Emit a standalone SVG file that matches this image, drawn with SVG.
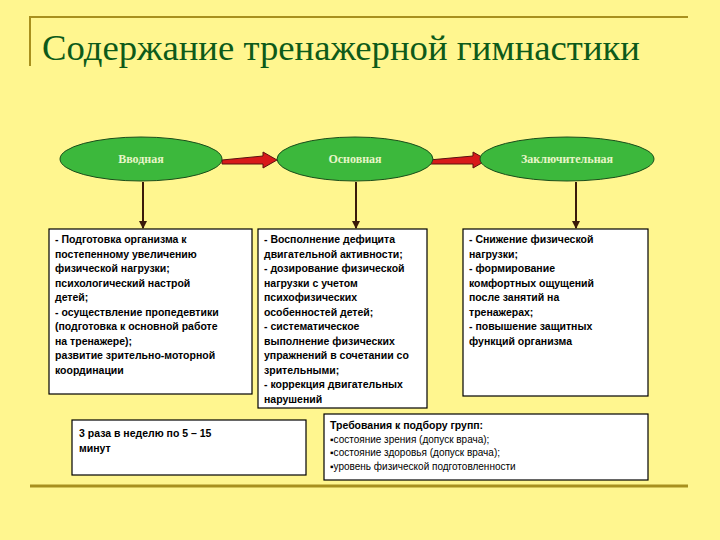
<svg xmlns="http://www.w3.org/2000/svg" width="720" height="540" viewBox="0 0 720 540">
<style>
.ell{fill:#3cb83c;stroke:#1a4d1a;stroke-width:1}
.el{font-family:"Liberation Serif",serif;font-size:12px;font-weight:bold;fill:#e8f5c8;text-anchor:middle}
.box{fill:#fff;stroke:#000;stroke-width:1.2}
.t{font-family:"Liberation Sans",Arial,sans-serif;font-size:10.5px;font-weight:bold;fill:#000}
.tn{font-family:"Liberation Sans",Arial,sans-serif;font-size:10px;fill:#000}
.dn{stroke:#3a1a0a;stroke-width:2;fill:none}
</style>
<defs>
<marker id="ad" markerWidth="8" markerHeight="8" refX="7" refY="4" orient="auto" markerUnits="userSpaceOnUse"><path d="M0,0 L8,4 L0,8 Z" fill="#3a1a0a"/></marker>
</defs>
<rect width="720" height="540" fill="#fff68f"/>
<path d="M29,17 H688" stroke="#a8901e" stroke-width="2"/>
<path d="M30,17 V66" stroke="#a8901e" stroke-width="2"/>
<path d="M30,486 H688" stroke="#a8901e" stroke-width="3"/>
<text x="42" y="60" font-family="Liberation Serif,serif" font-size="35" fill="#0d5a1a" textLength="598" lengthAdjust="spacingAndGlyphs">Содержание тренажерной гимнастики</text>
<g id="connectors">
<path d="M222,160 L263,156 L263,152 L277,160 L263,168 L263,164 L222,164 Z" fill="#d81a1a" stroke="#5a1010" stroke-width="1"/>
<path d="M429,160 L473,156 L473,152 L487,160 L473,168 L473,164 L429,164 Z" fill="#d81a1a" stroke="#5a1010" stroke-width="1"/>
<path class="dn" d="M143,182 V228" marker-end="url(#ad)"/>
<path class="dn" d="M356,182 V228" marker-end="url(#ad)"/>
<path class="dn" d="M576,182 V228" marker-end="url(#ad)"/>
</g>
<g id="n1"><ellipse class="ell" cx="141" cy="159" rx="81" ry="22"/><text class="el" x="141" y="163">Вводная</text></g>
<g id="n2"><ellipse class="ell" cx="355" cy="159" rx="78" ry="22"/><text class="el" x="355" y="163">Основная</text></g>
<g id="n3"><ellipse class="ell" cx="567" cy="159" rx="87" ry="22"/><text class="el" x="567" y="163">Заключительная</text></g>
<g id="b1"><rect class="box" x="49" y="229" width="203" height="165"/>
<text class="t" x="55" y="243">- Подготовка организма к<tspan x="55" dy="14.5">постепенному увеличению</tspan><tspan x="55" dy="14.5">физической нагрузки;</tspan><tspan x="55" dy="14.5">психологический настрой</tspan><tspan x="55" dy="14.5">детей;</tspan><tspan x="55" dy="14.5">- осуществление пропедевтики</tspan><tspan x="55" dy="14.5">(подготовка к основной работе</tspan><tspan x="55" dy="14.5">на тренажере);</tspan><tspan x="55" dy="14.5">развитие зрительно-моторной</tspan><tspan x="55" dy="14.5">координации</tspan></text></g>
<g id="b2"><rect class="box" x="258" y="229" width="169" height="179"/>
<text class="t" x="264" y="243">- Восполнение дефицита<tspan x="264" dy="14.5">двигательной активности;</tspan><tspan x="264" dy="14.5">- дозирование физической</tspan><tspan x="264" dy="14.5">нагрузки с учетом</tspan><tspan x="264" dy="14.5">психофизических</tspan><tspan x="264" dy="14.5">особенностей детей;</tspan><tspan x="264" dy="14.5">- систематическое</tspan><tspan x="264" dy="14.5">выполнение физических</tspan><tspan x="264" dy="14.5">упражнений в сочетании со</tspan><tspan x="264" dy="14.5">зрительными;</tspan><tspan x="264" dy="14.5">- коррекция двигательных</tspan><tspan x="264" dy="14.5">нарушений</tspan></text></g>
<g id="b3"><rect class="box" x="463" y="229" width="185" height="167"/>
<text class="t" x="469" y="243">- Снижение физической<tspan x="469" dy="14.5">нагрузки;</tspan><tspan x="469" dy="14.5">- формирование</tspan><tspan x="469" dy="14.5">комфортных ощущений</tspan><tspan x="469" dy="14.5">после занятий на</tspan><tspan x="469" dy="14.5">тренажерах;</tspan><tspan x="469" dy="14.5">- повышение защитных</tspan><tspan x="469" dy="14.5">функций организма</tspan></text></g>
<g id="b4"><rect class="box" x="72" y="420" width="234" height="55"/>
<text class="t" x="79" y="437" font-size="12">3 раза в неделю по 5 – 15<tspan x="79" dy="15">минут</tspan></text></g>
<g id="b5"><rect class="box" x="324" y="414" width="324" height="66"/>
<text class="t" x="330" y="429">Требования к подбору групп:</text>
<text class="tn" x="330" y="443">▪состояние зрения (допуск врача);<tspan x="330" dy="12.5">▪состояние здоровья (допуск врача);</tspan><tspan x="330" dy="14">▪уровень физической подготовленности</tspan></text></g>
</svg>
